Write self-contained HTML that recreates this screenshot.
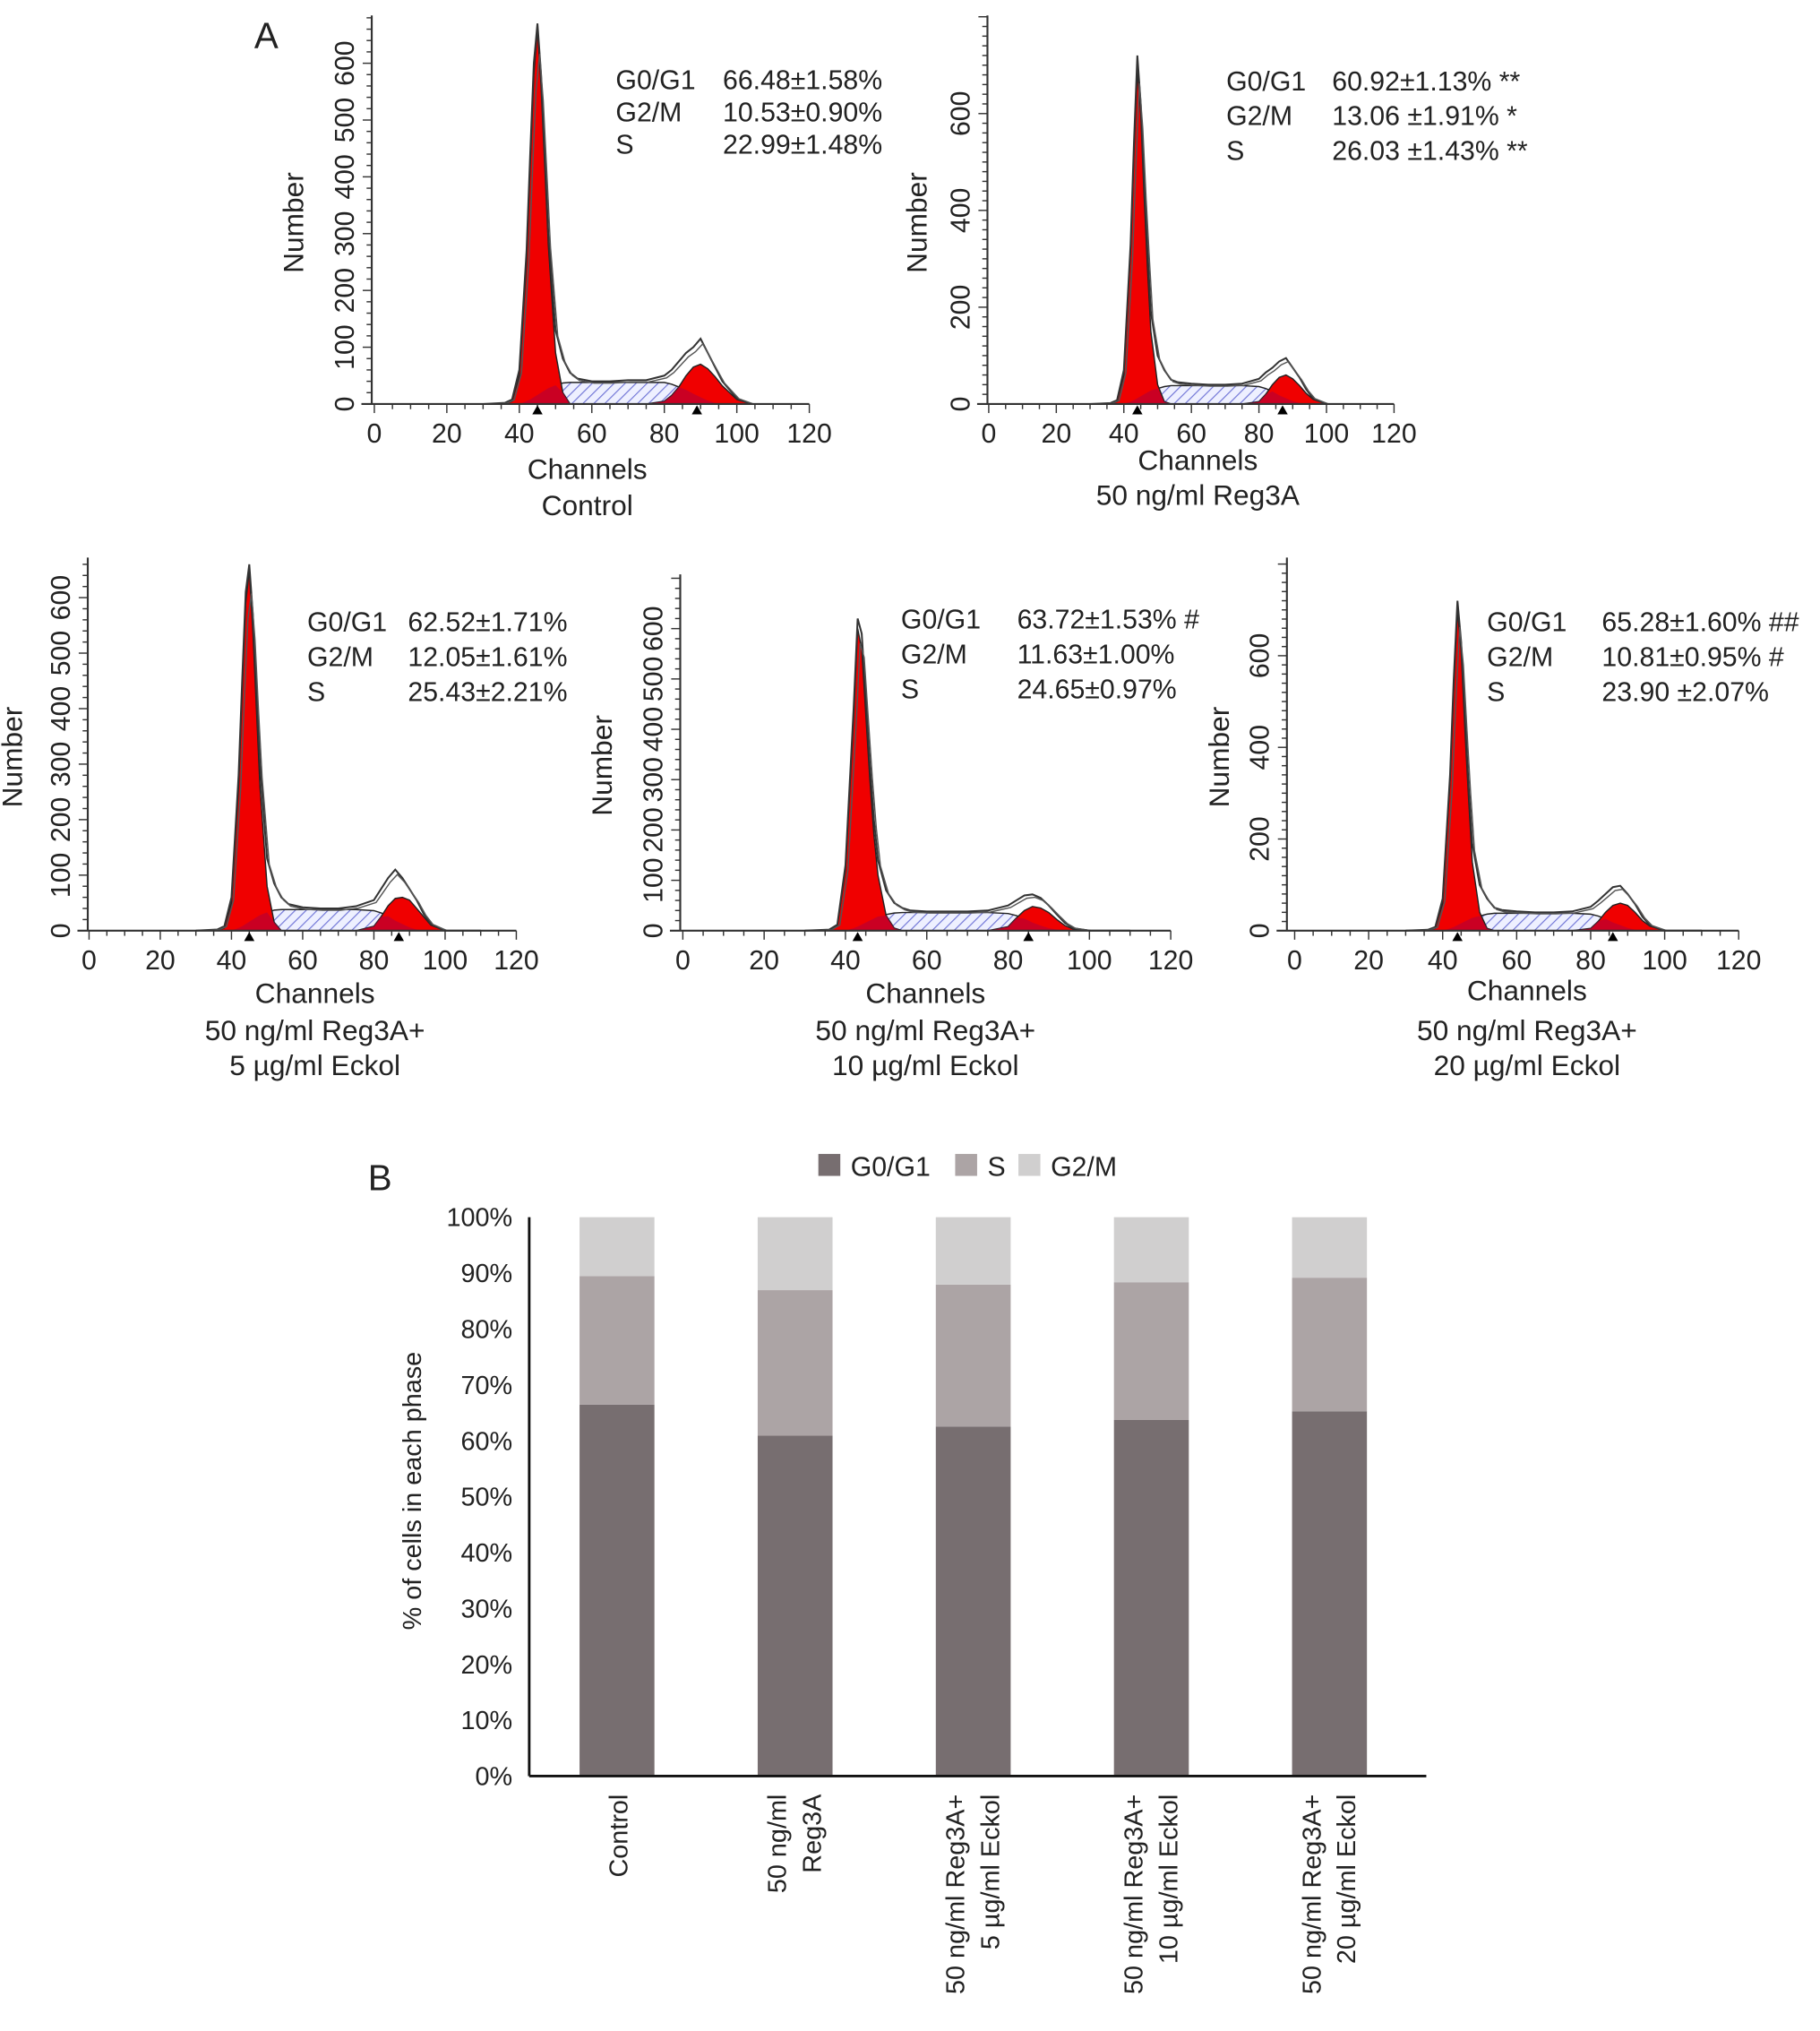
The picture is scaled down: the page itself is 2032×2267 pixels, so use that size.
<!DOCTYPE html>
<html><head><meta charset="utf-8">
<style>
html,body{margin:0;padding:0;background:#fff;}
svg text{font-family:"Liberation Sans",Arial,sans-serif;fill:#222;}
</style></head>
<body>
<svg id="fig" width="2032" height="2262" viewBox="0 0 1410 1570" preserveAspectRatio="none" xmlns="http://www.w3.org/2000/svg">
<defs>
<pattern id="hatch" patternUnits="userSpaceOnUse" width="6" height="6" patternTransform="rotate(45)">
<rect width="6" height="6" fill="#eef0ff"/>
<line x1="0" y1="0" x2="0" y2="6" stroke="#6f74d6" stroke-width="1.6"/>
</pattern>
</defs>
<text x="197" y="37" font-size="28">A</text>
<text x="285" y="922" font-size="28">B</text>
<g id="hist"></g>
<g id="bars"></g>
</svg>
<script>
// ---------- Histogram data (channel grid shared) ----------
const channels = [30,36,38,40,42,43,44,45,46,47,48,50,52,54,56,60,65,70,75,80,82,84,86,88,90,92,94,96,100,104,110];
const g1Control = [0,0,5,50,250,420,580,660,560,420,280,90,20,0,0,0,0,0,0,0,0,0,0,0,0,0,0,0,0,0,0];
const sControl  = [0,0,0,0,5,8,12,16,20,24,28,33,37,38,38,38,38,38,38,38,35,30,25,18,12,6,2,0,0,0,0];
const g2Control = [0,0,0,0,0,0,0,0,0,0,0,0,0,0,0,0,0,0,0,5,15,30,50,65,70,62,48,32,8,0,0];
const envControl= [0,2,8,60,270,440,600,670,580,440,300,130,80,55,45,40,40,42,42,50,60,75,90,100,115,90,65,40,10,0,0];

const g1Reg = [0,0,5,60,320,520,690,600,430,280,150,40,5,0,0,0,0,0,0,0,0,0,0,0,0,0,0,0,0,0,0];
const sReg  = [0,0,0,0,5,8,12,16,20,24,28,32,36,38,38,38,38,38,38,36,32,26,18,12,6,2,0,0,0,0,0];
const g2Reg = [0,0,0,0,0,0,0,0,0,0,0,0,0,0,0,0,0,0,0,5,20,40,55,60,52,38,22,10,0,0,0];
const envReg= [0,2,8,70,330,540,720,620,460,320,190,100,70,50,45,42,40,40,42,52,65,75,88,95,75,55,30,12,0,0,0];

const g1E5 = [0,0,5,50,260,430,590,650,540,400,260,80,15,0,0,0,0,0,0,0,0,0,0,0,0,0,0,0,0,0,0];
const sE5  = [0,0,0,0,5,8,12,16,20,24,28,33,37,38,38,38,38,38,38,36,32,26,18,12,6,2,0,0,0,0,0];
const g2E5 = [0,0,0,0,0,0,0,0,0,0,0,0,0,0,0,0,0,0,0,8,25,45,58,60,55,40,25,10,0,0,0];
const envE5= [0,2,8,60,280,450,610,660,570,430,300,130,85,60,48,42,40,40,44,55,75,95,110,95,75,55,30,12,0,0,0];

const g1E10 = [0,0,10,120,420,600,560,430,300,190,110,30,5,0,0,0,0,0,0,0,0,0,0,0,0,0,0,0,0,0,0];
const sE10  = [0,0,0,0,5,8,12,16,20,24,28,32,35,36,36,36,36,36,36,34,30,24,16,10,5,2,0,0,0,0,0];
const g2E10 = [0,0,0,0,0,0,0,0,0,0,0,0,0,0,0,0,0,0,0,8,25,40,48,45,36,22,10,3,0,0,0];
const envE10= [0,2,12,130,440,620,590,460,330,220,140,80,55,45,40,38,38,38,40,50,60,70,72,65,50,32,15,5,0,0,0];

const g1E20 = [0,0,5,60,330,530,700,610,440,290,150,40,5,0,0,0,0,0,0,0,0,0,0,0,0,0,0,0,0,0,0];
const sE20  = [0,0,0,0,5,8,12,16,20,24,28,32,36,38,38,38,38,38,38,36,32,26,18,12,6,2,0,0,0,0,0];
const g2E20 = [0,0,0,0,0,0,0,0,0,0,0,0,0,0,0,0,0,0,0,5,20,40,55,60,55,40,22,10,0,0,0];
const envE20= [0,2,8,70,340,550,720,630,470,320,190,100,70,50,45,42,40,40,42,52,65,80,95,98,80,58,30,12,0,0,0];

const g1Peaks = [45,44,45,43,44];
const g2Peaks = [89,87,87,85,86];

const statNames = ["G0/G1","G2/M","S"];
const statsControl = ["66.48±1.58%","10.53±0.90%","22.99±1.48%"];
const statsReg = ["60.92±1.13% **","13.06 ±1.91% *","26.03 ±1.43% **"];
const statsE5 = ["62.52±1.71%","12.05±1.61%","25.43±2.21%"];
const statsE10 = ["63.72±1.53% #","11.63±1.00%","24.65±0.97%"];
const statsE20 = ["65.28±1.60% ##","10.81±0.95% #","23.90 ±2.07%"];

const xTicks = [0,20,40,60,80,100,120];

// ---------- Bar data ----------
const groups = ["Control","50 ng/ml Reg3A","50 ng/ml Reg3A+ 5 µg/ml Eckol","50 ng/ml Reg3A+ 10 µg/ml Eckol","50 ng/ml Reg3A+ 20 µg/ml Eckol"];
const groupLine1 = ["Control","50 ng/ml","50 ng/ml Reg3A+","50 ng/ml Reg3A+","50 ng/ml Reg3A+"];
const groupLine2 = ["","Reg3A","5 µg/ml Eckol","10 µg/ml Eckol","20 µg/ml Eckol"];
const g0g1 = [66.48,60.92,62.52,63.72,65.28];
const sPhase = [22.99,26.03,25.43,24.65,23.90];
const g2m = [10.53,13.06,12.05,11.63,10.81];
const pctTicks = [0,10,20,30,40,50,60,70,80,90,100];

const NS = "http://www.w3.org/2000/svg";
function mk(tag, attrs, parent){const e=document.createElementNS(NS,tag);for(const k in attrs)e.setAttribute(k,attrs[k]);parent.appendChild(e);return e;}

const panels = [
 {ax:288, x0:290, x1:627, y0:313, top:12, per100:44, step:100, max:600, env:envControl,g1:g1Control,s:sControl,g2:g2Control,stats:statsControl, tx:477, vx:560, ty:[69,94,119], capY:[371,399], cap:["Channels","Control"], capX:455, numX:235},
 {ax:765, x0:766, x1:1080, y0:313, top:12, per100:37.5, step:200, max:600, env:envReg,g1:g1Reg,s:sReg,g2:g2Reg,stats:statsReg, tx:950, vx:1032, ty:[70,97,124], capY:[364,391], cap:["Channels","50 ng/ml Reg3A"], capX:928, numX:718},
 {ax:68, x0:69, x1:400, y0:721, top:432, per100:43, step:100, max:600, env:envE5,g1:g1E5,s:sE5,g2:g2E5,stats:statsE5, tx:238, vx:316, ty:[489,516,543], capY:[777,806,833], cap:["Channels","50 ng/ml Reg3A+","5 µg/ml Eckol"], capX:244, numX:17},
 {ax:527, x0:529, x1:907, y0:721, top:445, per100:39, step:100, max:600, env:envE10,g1:g1E10,s:sE10,g2:g2E10,stats:statsE10, tx:698, vx:788, ty:[487,514,541], capY:[777,806,833], cap:["Channels","50 ng/ml Reg3A+","10 µg/ml Eckol"], capX:717, numX:474},
 {ax:997, x0:1003, x1:1347, y0:721, top:432, per100:35.5, step:200, max:600, env:envE20,g1:g1E20,s:sE20,g2:g2E20,stats:statsE20, tx:1152, vx:1241, ty:[489,516,543], capY:[775,806,833], cap:["Channels","50 ng/ml Reg3A+","20 µg/ml Eckol"], capX:1183, numX:952}
];
const hist = document.getElementById('hist');
panels.forEach((p,pi)=>{
  const g = mk('g',{},hist);
  
  
  const X = c => p.x0 + (p.x1-p.x0)*c/120;
  const Y = v => p.y0 - v*p.per100/100;
  const poly = (arr, fill, name) => {
    let pts = channels.map((c,i)=>X(c)+','+Y(arr[i])).join(' ');
    pts += ' '+X(channels[channels.length-1])+','+Y(0)+' '+X(channels[0])+','+Y(0);
    const e = mk('polygon',{points:pts,fill:fill,stroke:'#222','stroke-width':1},g);
    
    
  };
  poly(p.s,'url(#hatch)','s-phase-fill');
  poly(p.g1,'#f00000','g1-peak-fill');
  poly(p.g2,'#f00000','g2-peak-fill');
  const ov = p.s.map((v,i)=>Math.min(v, Math.max(p.g1[i],p.g2[i])));
  const ovp = mk('polygon',{points:channels.map((c,i)=>X(c)+','+Y(ov[i])).join(' ')+' '+X(110)+','+Y(0)+' '+X(30)+','+Y(0),fill:'#b0003a',opacity:0.6},g);
  
  
  const envLine = mk('polyline',{points:channels.map((c,i)=>X(c)+','+Y(p.env[i])).join(' '),fill:'none',stroke:'#333','stroke-width':1.4},g);
  
  
  const envLine2 = mk('polyline',{points:channels.map((c,i)=>X(c+0.6)+','+Y(p.env[i]*0.92)).join(' '),fill:'none',stroke:'#555','stroke-width':1},g);
  
  
  const ya = mk('line',{x1:p.ax,y1:p.top,x2:p.ax,y2:p.y0,stroke:'#333','stroke-width':1.5},g);
  
  
  const xa = mk('line',{x1:p.ax-8,y1:p.y0,x2:X(120),y2:p.y0,stroke:'#333','stroke-width':1.5},g);
  
  
  for(let v=0; Y(v)>=p.top; v+=20){
    mk('line',{x1:p.ax-(v%p.step===0?7:4),y1:Y(v),x2:p.ax,y2:Y(v),stroke:'#333','stroke-width':1},g);
  }
  for(let c=0;c<=120;c+=5){
    mk('line',{x1:X(c),y1:p.y0,x2:X(c),y2:p.y0+(c%20===0?7:4),stroke:'#333','stroke-width':1},g);
  }
  for(let v=0; v<=p.max; v+=p.step){
    const t = mk('text',{x:p.ax-14,y:Y(v),'font-size':21,'text-anchor':'middle',transform:`rotate(-90 ${p.ax-14} ${Y(v)})`},g);
    t.textContent = v;
    
    
  }
  xTicks.forEach(c=>{
    const t = mk('text',{x:X(c),y:p.y0+30,'font-size':21,'text-anchor':'middle'},g);
    t.textContent = c;
    
    
  });
  [g1Peaks[pi], g2Peaks[pi]].forEach(c=>{
    const tri = mk('polygon',{points:`${X(c)-4},${p.y0+8} ${X(c)+4},${p.y0+8} ${X(c)},${p.y0+1}`,fill:'#000'},g);
    
    
  });
  const nt = mk('text',{x:p.numX,y:(p.top+p.y0)/2+10,'font-size':22,'text-anchor':'middle',transform:`rotate(-90 ${p.numX} ${(p.top+p.y0)/2+10})`},g);
  nt.textContent='Number';
  
  
  p.cap.forEach((c,i)=>{
    const t = mk('text',{x:p.capX,y:p.capY[i],'font-size':22,'text-anchor':'middle'},g);
    t.textContent=c;
    
    
  });
  statNames.forEach((n,i)=>{
    const a = mk('text',{x:p.tx,y:p.ty[i],'font-size':21},g);
    a.textContent = n;
    
    
    const b = mk('text',{x:p.vx,y:p.ty[i],'font-size':21},g);
    b.textContent = p.stats[i];
    
    
  });
});

// ---------- Bar chart ----------
const bars = document.getElementById('bars');
const bx0 = 410, bxEnd = 1105, by0 = 1376, by100 = 943;
const BY = v => by0 - (by0-by100)*v/100;
const barW = 58, firstC = 478, gapC = 138;
const BX = i => firstC + gapC*i;
const colors = {g:'#776e70', s:'#aca4a5', m:'#d0cfcf'};
groups.forEach((name,i)=>{
  const cx = BX(i);
  const segs = [[0,g0g1[i],colors.g,'bar-g0g1'],[g0g1[i],g0g1[i]+sPhase[i],colors.s,'bar-s'],[g0g1[i]+sPhase[i],g0g1[i]+sPhase[i]+g2m[i],colors.m,'bar-g2m']];
  segs.forEach(sg=>{
    const r = mk('rect',{x:cx-barW/2,y:BY(Math.min(sg[1],100)),width:barW,height:BY(sg[0])-BY(Math.min(sg[1],100)),fill:sg[2]},bars);
    
    
  });
  const lx = groupLine2[i] ? cx-7 : cx+8;
  const t1 = mk('text',{x:lx,y:1390,'font-size':20,'text-anchor':'end',transform:`rotate(-90 ${lx} 1390)`},bars);
  t1.textContent = groupLine1[i];
  
  
  if(groupLine2[i]){
    const t2 = mk('text',{x:cx+20,y:1390,'font-size':20,'text-anchor':'end',transform:`rotate(-90 ${cx+20} 1390)`},bars);
    t2.textContent = groupLine2[i];
    
    
  }
});
const bya = mk('line',{x1:bx0,y1:by100,x2:bx0,y2:by0,stroke:'#111','stroke-width':2},bars);


const bxa = mk('line',{x1:bx0,y1:by0,x2:bxEnd,y2:by0,stroke:'#111','stroke-width':2},bars);


pctTicks.forEach(v=>{
  const t = mk('text',{x:397,y:BY(v)+7,'font-size':20,'text-anchor':'end'},bars);
  t.textContent = v+'%';
  
  
});
const yt = mk('text',{x:326,y:1155,'font-size':20,'text-anchor':'middle',transform:'rotate(-90 326 1155)'},bars);
yt.textContent='% of cells in each phase';


const legendItems = [["G0/G1",634,colors.g],["S",740,colors.s],["G2/M",789,colors.m]];
legendItems.forEach(li=>{
  const r = mk('rect',{x:li[1],y:894,width:17,height:17,fill:li[2]},bars);
  
  
  const t = mk('text',{x:li[1]+25,y:911,'font-size':21},bars);
  t.textContent = li[0];
  
  
});
</script>
</body></html>
